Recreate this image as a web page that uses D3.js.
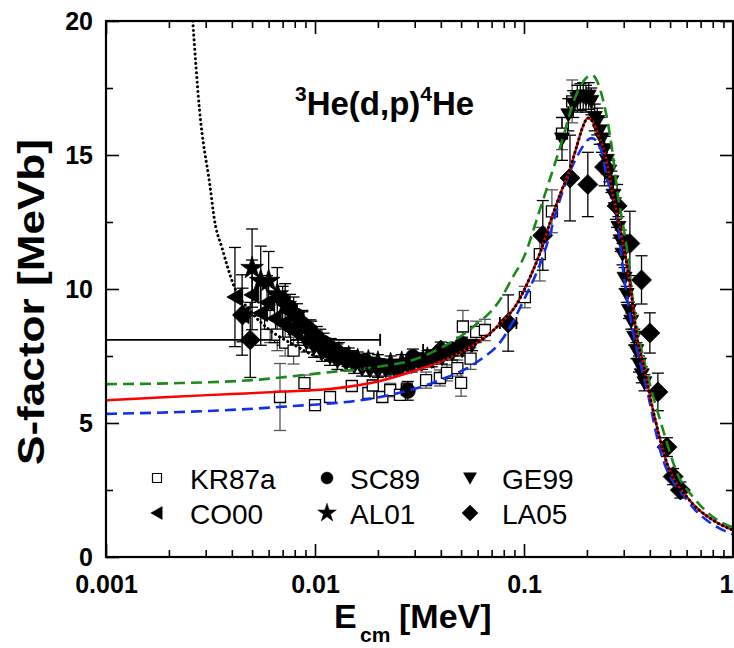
<!DOCTYPE html>
<html>
<head>
<meta charset="utf-8">
<script src="https://cdn.jsdelivr.net/npm/d3@7"></script>
<style>
  html, body { margin: 0; padding: 0; background: #fff; }
  svg { display: block; }
  text { font-family: "Liberation Sans", Arial, sans-serif; }
</style>
</head>
<body>
<svg id="chart" width="734" height="648"></svg>
<script>
// ---- axis ticks ----
const xMajorTicks = [0.001, 0.01, 0.1, 1];
const xTickLabels = ["0.001", "0.01", "0.1", "1"];
const yMajorTicks = [0, 5, 10, 15, 20];
const yMinorTicks = [2.5, 7.5, 12.5, 17.5];

// ---- measured S-factors: [E_cm (MeV), S (MeV b), dS] ----
const kr87a = [
  [0.0061, 8.7, 0.7], [0.0066, 8.3, 0.6], [0.0072, 8.0, 0.5], [0.0079, 7.7, 0.5],
  [0.0068, 5.97, 1.25], [0.0089, 6.49, 0.3], [0.0100, 5.67, 0.2], [0.0118, 5.97, 0.2],
  [0.0150, 6.38, 0.2], [0.0180, 6.12, 0.2], [0.0189, 6.4, 0.2], [0.0210, 5.97, 0.2],
  [0.0229, 6.23, 0.25], [0.0255, 6.05, 0.2], [0.0275, 6.25, 0.25], [0.0340, 6.6, 0.3],
  [0.0396, 6.68, 0.3], [0.0428, 6.87, 0.3], [0.0480, 7.05, 0.3], [0.0500, 6.5, 0.5],
  [0.0510, 8.6, 0.6], [0.0555, 7.4, 0.4], [0.0590, 8.4, 0.4], [0.0650, 8.47, 0.4],
  [0.101, 9.7, 0.4], [0.119, 11.3, 1.0], [0.136, 12.9, 0.8], [0.152, 15.8, 0.6],
  [0.170, 17.0, 0.8]
];
const sc89 = [
  [0.0070, 9.6, 0.5], [0.0076, 9.3, 0.5], [0.0082, 9.0, 0.45], [0.0087, 8.7, 0.45],
  [0.0095, 8.45, 0.4], [0.0102, 8.2, 0.4], [0.0110, 8.0, 0.35], [0.0119, 7.8, 0.35],
  [0.0128, 7.65, 0.3], [0.0139, 7.5, 0.3], [0.0152, 7.4, 0.3], [0.0166, 7.3, 0.25],
  [0.0183, 7.2, 0.25], [0.0203, 7.15, 0.25], [0.0224, 7.1, 0.2], [0.0247, 7.1, 0.2],
  [0.0278, 6.2, 0.35], [0.0294, 7.46, 0.3], [0.0325, 7.35, 0.25], [0.0362, 7.45, 0.25],
  [0.0405, 7.6, 0.25], [0.0453, 7.75, 0.25], [0.0506, 7.95, 0.25]
];
const ge99 = [
  [0.0076, 8.5, 0.4], [0.0083, 8.3, 0.4], [0.0091, 8.0, 0.35], [0.0099, 7.8, 0.35],
  [0.0108, 7.6, 0.3], [0.0118, 7.45, 0.3], [0.0128, 7.3, 0.3], [0.0141, 7.2, 0.25],
  [0.0154, 7.1, 0.25], [0.0168, 7.0, 0.25], [0.0183, 6.95, 0.2], [0.0200, 6.9, 0.2],
  [0.0218, 6.95, 0.2], [0.0239, 7.0, 0.2], [0.0261, 7.05, 0.2], [0.0290, 7.1, 0.2],
  [0.0325, 7.2, 0.2], [0.0362, 7.3, 0.2], [0.0405, 7.4, 0.2], [0.0453, 7.55, 0.2],
  [0.0506, 7.7, 0.2], [0.0564, 7.9, 0.2],
  [0.152, 15.6, 0.8], [0.163, 16.5, 0.6], [0.172, 16.9, 0.5], [0.180, 17.1, 0.5],
  [0.186, 17.16, 0.5], [0.192, 17.2, 0.5], [0.198, 17.1, 0.5], [0.204, 17.2, 0.5],
  [0.210, 17.0, 0.5], [0.218, 16.4, 0.5], [0.224, 16.25, 0.5], [0.230, 15.9, 0.5],
  [0.236, 15.6, 0.5], [0.243, 15.2, 0.5], [0.249, 14.8, 0.5], [0.256, 14.4, 0.4],
  [0.262, 14.0, 0.4], [0.268, 13.5, 0.4], [0.275, 13.0, 0.4], [0.283, 12.3, 0.4],
  [0.290, 11.8, 0.4], [0.296, 11.3, 0.4], [0.303, 10.4, 0.4], [0.310, 9.8, 0.3],
  [0.318, 9.2, 0.3], [0.326, 8.8, 0.3], [0.337, 8.2, 0.3], [0.345, 7.7, 0.3],
  [0.355, 7.2, 0.3], [0.366, 6.8, 0.3], [0.377, 6.5, 0.3]
];
const co00 = [
  [0.00414, 9.7, 1.85], [0.00448, 9.03, 1.5], [0.0050, 9.78, 1.3], [0.0055, 9.1, 1.2],
  [0.0059, 9.5, 1.0], [0.0064, 8.9, 0.9], [0.0070, 8.7, 0.8], [0.0076, 8.5, 0.7]
];
const al01 = [
  [0.0050, 10.78, 1.46], [0.0055, 10.3, 1.3], [0.0060, 10.3, 1.1], [0.0066, 9.8, 1.0],
  [0.0072, 9.4, 0.8], [0.0079, 9.0, 0.7], [0.0087, 8.6, 0.6], [0.0096, 8.3, 0.5],
  [0.0106, 8.0, 0.5], [0.0118, 7.75, 0.4], [0.0130, 7.6, 0.4], [0.0145, 7.45, 0.35],
  [0.0160, 7.35, 0.3], [0.0180, 7.3, 0.3], [0.0200, 7.25, 0.3], [0.0230, 7.2, 0.3],
  [0.0260, 7.25, 0.3], [0.0300, 7.3, 0.3], [0.0345, 7.4, 0.3]
];
// LA05 rows carry an energy range: [E, S, dS, Emin, Emax]
const la05 = [
  [0.0045, 9.03, 1.0, null, null], [0.0049, 8.1, 1.4, 0.0005, 0.0205],
  [0.0400, 7.72, 0.3, 0.0329, 0.0480], [0.084, 8.73, 1.05, 0.0767, 0.092],
  [0.123, 12.0, 1.3, 0.118, 0.128], [0.166, 14.14, 1.6, null, null],
  [0.202, 13.9, 1.2, null, null], [0.243, 14.55, 0.7, null, null],
  [0.279, 13.1, 0.8, null, null], [0.321, 11.7, 1.2, null, null],
  [0.365, 10.34, 0.9, null, null], [0.400, 8.36, 0.75, null, null],
  [0.437, 6.16, 0.7, null, null], [0.483, 4.1, 0.35, null, null],
  [0.517, 3.0, 0.3, null, null], [0.560, 2.5, 0.3, null, null]
];

// ---- model curves: [E_cm (MeV), S (MeV b)] ----
const curveGreen = [
  [0.001, 6.45], [0.00226, 6.49], [0.005, 6.6], [0.0109, 6.87], [0.02, 7.1],
  [0.0294, 7.35], [0.04, 7.8], [0.057, 8.58], [0.0767, 9.59], [0.0885, 10.45],
  [0.1, 11.2], [0.119, 12.95], [0.149, 15.3], [0.179, 17.3], [0.211, 17.98],
  [0.239, 17.05], [0.264, 15.2], [0.279, 13.7], [0.311, 11.46], [0.333, 9.48],
  [0.388, 6.87], [0.448, 5.11], [0.55, 3.0], [0.644, 2.24], [0.8, 1.5], [1.0, 1.1]
];
const curveBlue = [
  [0.001, 5.34], [0.00226, 5.41], [0.0068, 5.6], [0.0205, 5.97], [0.0396, 6.6],
  [0.0615, 7.35], [0.0767, 8.0], [0.1, 9.6], [0.123, 11.2], [0.154, 13.7],
  [0.179, 14.93], [0.211, 15.63], [0.231, 15.3], [0.249, 14.18], [0.279, 12.69],
  [0.298, 10.7], [0.329, 8.58], [0.388, 6.23], [0.448, 4.0], [0.602, 2.13],
  [0.837, 1.12], [1.0, 0.85]
];
const curveRed = [
  [0.001, 5.85], [0.002, 5.97], [0.004, 6.08], [0.007, 6.17], [0.0118, 6.27],
  [0.02, 6.55], [0.03, 6.95], [0.04, 7.3], [0.05, 7.65], [0.06, 8.0], [0.07, 8.4],
  [0.08, 8.85], [0.09, 9.3], [0.1, 9.95], [0.107, 10.45], [0.12, 11.4],
  [0.133, 12.46], [0.15, 13.6], [0.163, 14.3], [0.18, 15.4], [0.19, 16.0],
  [0.202, 16.38], [0.215, 16.2], [0.225, 15.8], [0.239, 15.3], [0.264, 13.7],
  [0.294, 11.94], [0.321, 10.2], [0.351, 8.0], [0.371, 7.24], [0.414, 5.49],
  [0.483, 3.5], [0.602, 2.24], [0.8, 1.38], [1.0, 1.0]
];
const curveDotted = [
  [0.0026, 20.0], [0.0028, 16.7], [0.00315, 13.8], [0.0033, 12.6], [0.0036, 11.5],
  [0.0041, 10.1], [0.005, 9.1], [0.006, 8.5], [0.008, 7.9], [0.01, 7.5],
  [0.015, 7.1], [0.02, 7.0], [0.03, 7.1], [0.04, 7.35], [0.05, 7.65], [0.06, 8.0],
  [0.07, 8.4], [0.08, 8.85], [0.09, 9.3], [0.1, 9.95], [0.107, 10.45], [0.12, 11.4],
  [0.133, 12.46], [0.15, 13.6], [0.163, 14.3], [0.18, 15.4], [0.19, 16.0],
  [0.202, 16.38], [0.215, 16.2], [0.225, 15.8], [0.239, 15.3], [0.264, 13.7],
  [0.294, 11.94], [0.321, 10.2], [0.351, 8.0], [0.371, 7.24], [0.414, 5.49],
  [0.483, 3.5], [0.602, 2.24], [0.8, 1.38], [1.0, 1.0]
];

const legendItems = [
  { name: "KR87a", shape: "square" }, { name: "SC89", shape: "circle" }, { name: "GE99", shape: "down" },
  { name: "CO00", shape: "left" }, { name: "AL01", shape: "star" }, { name: "LA05", shape: "diamond" }
];

// ---- layout ----
const svg = d3.select("#chart");
const L = 106, R = 733, T = 21, B = 557;
const x = d3.scaleLog().domain([0.001, 1]).range([L, R]);
const y = d3.scaleLinear().domain([0, 20]).range([B, T]);

svg.append("defs").append("clipPath").attr("id", "plotClip")
  .append("rect").attr("x", L).attr("y", T).attr("width", R - L).attr("height", B - T);

// marker path generators
function markerPath(shape, s) {
  if (shape === "square") return d3.symbol(d3.symbolSquare, s * s)();
  if (shape === "circle") return d3.symbol(d3.symbolCircle, Math.PI * (s / 2) * (s / 2))();
  if (shape === "star") return d3.symbol(d3.symbolStar, s * s * 0.55)();
  if (shape === "diamond") { const h = s / 2; return `M0,${-h}L${h},0L0,${h}L${-h},0Z`; }
  if (shape === "down") { const h = s / 2; return `M${-h},${-h * 0.8}L${h},${-h * 0.8}L0,${h * 0.95}Z`; }
  if (shape === "left") { const h = s / 2; return `M${-h * 0.95},0L${h * 0.8},${-h}L${h * 0.8},${h}Z`; }
}

const plot = svg.append("g").attr("clip-path", "url(#plotClip)");

function drawErrors(data, color) {
  const g = plot.append("g").attr("stroke", color).attr("stroke-width", 1.3).attr("fill", "none");
  const cap = 6;
  data.forEach(d => {
    const cx = x(d[0]), y1 = y(d[1] - d[2]), y2 = y(d[1] + d[2]);
    g.append("line").attr("x1", cx).attr("x2", cx).attr("y1", y1).attr("y2", y2);
    g.append("line").attr("x1", cx - cap).attr("x2", cx + cap).attr("y1", y1).attr("y2", y1);
    g.append("line").attr("x1", cx - cap).attr("x2", cx + cap).attr("y1", y2).attr("y2", y2);
    if (d.length > 3 && d[3] != null) {
      const cy = y(d[1]), xa = x(d[3]), xb = x(d[4]);
      g.append("line").attr("x1", xa).attr("x2", xb).attr("y1", cy).attr("y2", cy).attr("stroke-width", 1.8);
      g.append("line").attr("x1", xa).attr("x2", xa).attr("y1", cy - cap).attr("y2", cy + cap).attr("stroke-width", 1.8);
      g.append("line").attr("x1", xb).attr("x2", xb).attr("y1", cy - cap).attr("y2", cy + cap).attr("stroke-width", 1.8);
    }
  });
}

function drawMarkers(data, shape, size, open) {
  plot.append("g").selectAll("path").data(data).join("path")
    .attr("d", markerPath(shape, size))
    .attr("transform", d => `translate(${x(d[0])},${y(d[1])})`)
    .attr("fill", open ? "#fff" : "#000")
    .attr("stroke", "#000")
    .attr("stroke-width", open ? 1.3 : 0.8);
}

drawErrors(kr87a, "#555");
drawErrors(sc89, "#000");
drawErrors(ge99, "#000");
drawErrors(co00, "#000");
drawErrors(al01, "#000");
drawErrors(la05, "#000");

drawMarkers(kr87a, "square", 11, true);
drawMarkers(co00, "left", 17, false);
drawMarkers(al01, "star", 17, false);
drawMarkers(sc89, "circle", 15, false);
drawMarkers(ge99, "down", 15, false);
drawMarkers(la05, "diamond", 20, false);

// model curves
const line = d3.line().x(d => x(d[0])).y(d => y(d[1])).curve(d3.curveMonotoneX);
plot.append("path").datum(curveGreen).attr("d", line).attr("fill", "none")
  .attr("stroke", "#1a8a1a").attr("stroke-width", 2.6).attr("stroke-dasharray", "11,6");
plot.append("path").datum(curveBlue).attr("d", line).attr("fill", "none")
  .attr("stroke", "#1030f0").attr("stroke-width", 2.6).attr("stroke-dasharray", "11,6");
plot.append("path").datum(curveRed).attr("d", line).attr("fill", "none")
  .attr("stroke", "#ff0000").attr("stroke-width", 2.4);
plot.append("path").datum(curveDotted).attr("d", line).attr("fill", "none")
  .attr("stroke", "#000").attr("stroke-width", 3).attr("stroke-linecap", "round")
  .attr("stroke-dasharray", "0.1,4.6");

// ---- axes ----
const xMinor = [];
[0.001, 0.01, 0.1].forEach(dec => { for (let k = 2; k <= 9; k++) xMinor.push(dec * k); });

function axisGroup(axis, tr) {
  const g = svg.append("g").attr("transform", tr).call(axis);
  g.select(".domain").remove();
  g.selectAll(".tick line").attr("stroke", "#000").attr("stroke-width", 1.6);
  return g;
}
// bottom
const gxb = axisGroup(d3.axisBottom(x).tickValues(xMajorTicks).tickSize(-13).tickPadding(18)
  .tickFormat((d, i) => xTickLabels[i]), `translate(0,${B})`);
gxb.selectAll("text").attr("font-size", 25).attr("font-weight", "bold").attr("fill", "#000")
  .attr("font-family", "Liberation Sans, Arial, sans-serif");
// keep the last label inside the page edge
gxb.selectAll(".tick:last-of-type text").attr("text-anchor", "end").attr("dx", 0);
axisGroup(d3.axisBottom(x).tickValues(xMinor).tickSize(-7).tickFormat(""), `translate(0,${B})`);
// top
axisGroup(d3.axisTop(x).tickValues(xMajorTicks).tickSize(-13).tickFormat(""), `translate(0,${T})`);
axisGroup(d3.axisTop(x).tickValues(xMinor).tickSize(-7).tickFormat(""), `translate(0,${T})`);
// left
const gyl = axisGroup(d3.axisLeft(y).tickValues(yMajorTicks).tickSize(-13).tickPadding(13)
  .tickFormat(d3.format("d")), `translate(${L},0)`);
gyl.selectAll("text").attr("font-size", 25).attr("font-weight", "bold").attr("fill", "#000")
  .attr("font-family", "Liberation Sans, Arial, sans-serif");
axisGroup(d3.axisLeft(y).tickValues(yMinorTicks).tickSize(-7).tickFormat(""), `translate(${L},0)`);
// right
axisGroup(d3.axisRight(y).tickValues(yMajorTicks).tickSize(-13).tickFormat(""), `translate(${R},0)`);
axisGroup(d3.axisRight(y).tickValues(yMinorTicks).tickSize(-7).tickFormat(""), `translate(${R},0)`);

// frame
svg.append("rect").attr("x", L).attr("y", T).attr("width", R - L).attr("height", B - T)
  .attr("fill", "none").attr("stroke", "#000").attr("stroke-width", 2.2);

// ---- axis titles ----
const xt = svg.append("text").attr("y", 628).attr("font-weight", "bold").attr("fill", "#000");
xt.append("tspan").attr("x", 334).attr("font-size", 34).text("E");
xt.append("tspan").attr("x", 360).attr("dy", 14).attr("font-size", 21).text("cm");
xt.append("tspan").attr("x", 399).attr("dy", -14).attr("font-size", 34).text("[MeV]");

svg.append("text").attr("transform", "translate(44,302) rotate(-90)")
  .attr("text-anchor", "middle").attr("font-size", 36).attr("font-weight", "bold")
  .attr("textLength", 326).attr("lengthAdjust", "spacingAndGlyphs")
  .attr("fill", "#000").text("S-factor [MeVb]");

// ---- reaction label ----
const tl = svg.append("text").attr("y", 115).attr("font-weight", "bold").attr("fill", "#000");
tl.append("tspan").attr("x", 295).attr("dy", -14).attr("font-size", 21).text("3");
tl.append("tspan").attr("dy", 14).attr("font-size", 33).text("He(d,p)");
tl.append("tspan").attr("dy", -14).attr("font-size", 21).text("4");
tl.append("tspan").attr("dy", 14).attr("font-size", 33).text("He");

// ---- legend ----
const legCols = [157, 327, 470];
const legTextX = [190, 350, 502];
const legRows = [489, 524];
legendItems.forEach((it, i) => {
  const col = i % 3, row = Math.floor(i / 3);
  const cy = legRows[row] - 11;
  const sizes = { square: 9, circle: 12, down: 13, left: 13, star: 14, diamond: 16 };
  svg.append("path").attr("d", markerPath(it.shape, sizes[it.shape]))
    .attr("transform", `translate(${legCols[col]},${cy})`)
    .attr("fill", it.shape === "square" ? "#fff" : "#000")
    .attr("stroke", "#000").attr("stroke-width", it.shape === "square" ? 1.2 : 0.5);
  svg.append("text").attr("x", legTextX[col]).attr("y", legRows[row])
    .attr("font-size", 28).attr("fill", "#000").text(it.name);
});
</script>
</body>
</html>
